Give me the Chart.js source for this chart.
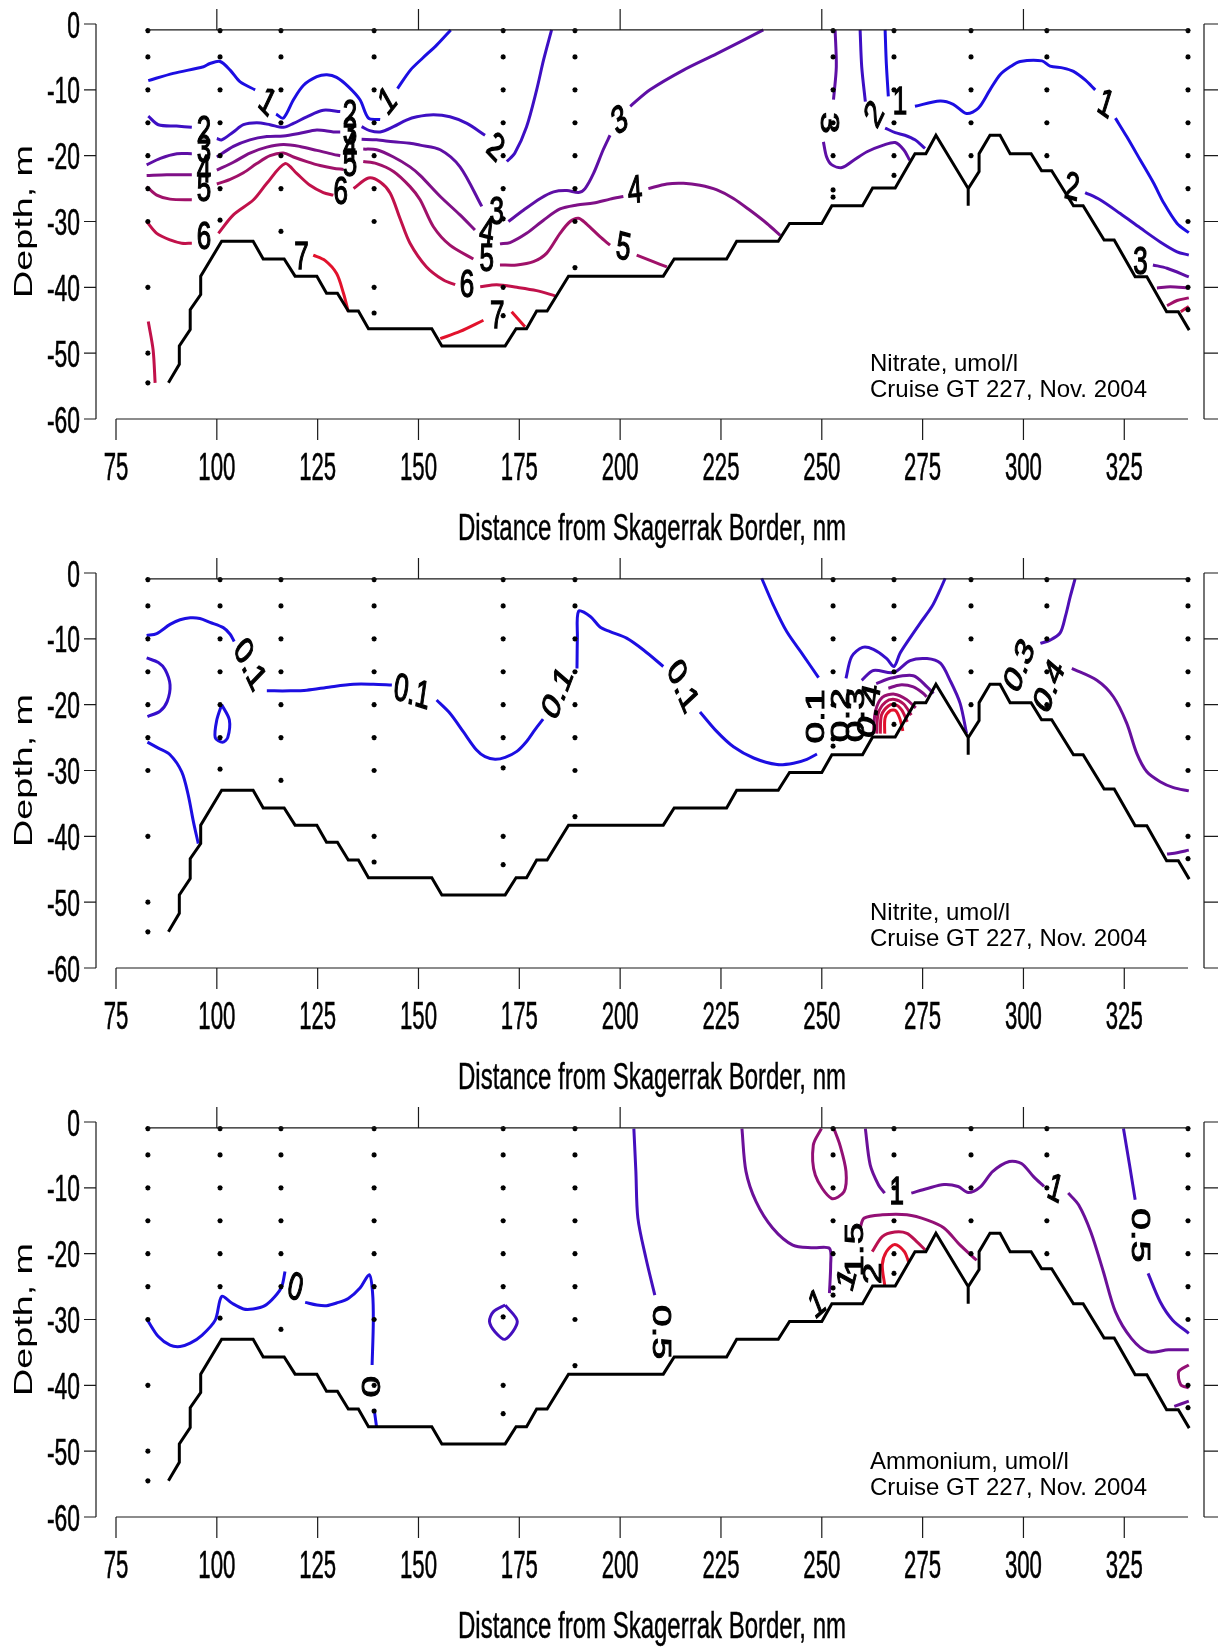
<!DOCTYPE html>
<html>
<head>
<meta charset="utf-8">
<script src="https://cdn.jsdelivr.net/npm/chart.js@4.4.1/dist/chart.umd.min.js"></script>
<style>
  body { margin: 0; background: #fff; }
  canvas { display: block; }
</style>
</head>
<body>
<canvas id="no3" width="1218" height="549"></canvas>
<canvas id="no2" width="1218" height="549"></canvas>
<canvas id="nh4" width="1218" height="549"></canvas>
<script>
// axes
const xTicks = [75, 100, 125, 150, 175, 200, 225, 250, 275, 300, 325];
const yTicks = [0, -10, -20, -30, -40, -50, -60];
const topTicks = [100, 150, 200, 250, 300];
const xMin = 75, xMax = 340.8;

// stations (distance, nm) and sample depths (m)
const stationDist = [82.9, 100.8, 115.9, 139.0, 171.0, 188.8, 252.8, 267.9, 287.0, 305.8, 340.8];
const stationDepths = [
  [1, 5, 10, 15, 20, 25, 30, 40, 50, 54.5],
  [1, 5, 10, 15, 20, 25, 29.8],
  [1, 5, 10, 15, 20, 25, 31.5],
  [1, 5, 10, 15, 20, 25, 30, 40, 43.9],
  [1, 5, 10, 15, 20, 25, 29.6, 40, 44.3],
  [1, 5, 10, 15, 20, 25, 30, 37],
  [1, 5, 10, 15, 20, 25.2, 26.3],
  [1, 5, 10, 15, 20, 23],
  [1, 5, 10, 15, 20],
  [1, 5, 10, 15, 20],
  [1, 5, 10, 15, 20, 25, 30, 40, 43.4]
];

// bottom profile
const bottomDist = [88.0, 90.7, 90.7, 93.4, 93.4, 96.0, 96.0, 101.2, 109.0, 111.5, 116.7, 119.4, 124.8, 127.2, 129.9, 132.6, 135.1, 137.6, 153.3, 155.8, 171.5, 174.2, 176.8, 179.3, 181.9, 187.2, 210.7, 213.4, 226.4, 228.9, 239.2, 242.0, 250.0, 252.5, 260.1, 262.6, 268.2, 273.1, 275.8, 278.3, 286.3, 286.3, 286.3, 289.0, 289.0, 291.7, 294.2, 296.7, 301.9, 304.5, 307.0, 312.4, 314.8, 320.0, 322.5, 327.7, 330.6, 335.5, 338.4, 341.1];
const bottomDepth = [-54.5, -51.7, -48.9, -46.4, -43.4, -41.1, -38.3, -33.0, -33.0, -35.7, -35.7, -38.3, -38.3, -40.9, -40.9, -43.6, -43.6, -46.3, -46.3, -48.9, -48.9, -46.3, -46.3, -43.6, -43.6, -38.3, -38.3, -35.7, -35.7, -33.0, -33.0, -30.3, -30.3, -27.6, -27.6, -24.9, -24.9, -19.7, -19.7, -16.9, -25.0, -27.6, -25.0, -22.4, -19.7, -16.9, -16.9, -19.7, -19.7, -22.3, -22.3, -27.6, -27.6, -32.8, -32.8, -38.4, -38.4, -43.7, -43.7, -46.5];

// ---- Nitrate contours [distance, depth]
const no3Levels = [1, 2, 3, 4, 5, 6, 7];
const no3Lines = [
  [1, [[83.0,-8.6],[89.2,-7.5],[96.7,-6.5],[98.3,-6.0],[100.8,-5.7],[103.3,-7.0],[105.8,-8.8],[109.5,-10.0]]],
  [1, [[114.7,-13.7],[116.5,-14.3],[119.0,-11.5],[121.5,-9.3],[124.8,-8.0],[127.3,-7.7],[129.7,-8.1],[132.6,-9.5],[135.5,-11.5],[137.6,-14.3],[140.5,-14.5]]],
  [1, [[144.8,-9.8],[148.0,-7.0],[151.0,-5.2],[154.5,-3.2],[158.0,-0.9]]],
  [1, [[265.7,-0.9],[266.0,-6.0],[266.5,-11.0]]],
  [1, [[273.1,-12.5],[279.3,-11.7],[282.6,-12.2],[285.9,-13.6],[288.8,-12.8],[291.7,-10.0],[294.2,-7.7],[296.7,-6.5],[299.2,-5.7],[304.6,-5.6],[306.6,-6.4],[309.9,-6.7],[312.4,-7.2],[315.3,-8.5],[317.8,-10.0]]],
  [1, [[322.8,-14.3],[325.6,-17.1],[329.0,-20.7],[332.3,-24.2],[334.8,-27.2],[338.1,-30.3],[341.0,-31.7]]],
  [2, [[83.0,-14.0],[85.5,-15.3],[90.0,-15.5],[93.8,-15.7]]],
  [2, [[100.0,-17.4],[101.2,-17.6],[104.1,-16.4],[106.6,-15.3],[109.9,-15.0],[113.2,-15.3],[116.5,-15.7],[119.0,-15.1],[122.3,-14.1],[126.4,-13.1],[130.6,-13.3]]],
  [2, [[135.9,-15.6],[137.9,-16.2],[140.5,-16.4],[143.8,-15.6],[147.0,-14.6],[149.6,-14.1],[153.7,-13.8],[157.8,-14.1],[162.0,-15.1],[166.5,-16.9]]],
  [2, [[171.9,-20.9],[173.9,-19.6],[176.8,-15.6],[179.3,-10.0],[181.0,-5.5],[183.0,-0.9]]],
  [2, [[259.5,-0.9],[259.9,-6.5],[260.8,-11.8]]],
  [2, [[265.7,-15.8],[268.2,-16.5],[270.6,-16.9],[273.1,-17.6],[275.6,-18.9]]],
  [2, [[315.3,-25.6],[319.0,-26.7],[324.0,-28.8],[329.0,-31.0],[333.9,-33.1],[338.1,-34.6],[341.0,-35.1]]],
  [3, [[82.6,-21.4],[86.0,-20.4],[90.1,-19.7],[93.8,-19.7]]],
  [3, [[100.0,-20.2],[104.1,-18.6],[108.2,-17.6],[112.4,-17.1],[116.5,-17.0],[120.6,-16.6],[124.8,-16.1],[128.9,-16.4],[130.6,-16.4]]],
  [3, [[135.9,-17.5],[139.6,-17.6],[143.8,-17.9],[147.9,-18.1],[150.4,-18.4],[155.4,-19.1],[160.3,-21.7],[165.7,-27.7]]],
  [3, [[172.3,-30.0],[176.0,-28.3],[180.2,-26.5],[183.5,-25.5],[186.8,-25.3],[189.7,-25.6],[191.3,-25.0],[193.4,-22.7],[195.8,-19.1],[197.5,-16.9]]],
  [3, [[202.5,-12.5],[207.4,-10.0],[215.7,-7.0],[224.0,-4.5],[235.5,-0.9]]],
  [3, [[253.3,-0.9],[253.6,-6.5],[252.9,-11.5]]],
  [3, [[250.4,-17.9],[251.2,-20.2],[252.5,-21.4],[255.0,-21.8],[257.9,-20.7],[261.2,-19.4],[265.3,-18.4],[268.2,-18.0],[270.3,-19.1],[271.8,-20.7]]],
  [3, [[332.1,-36.6],[335.6,-37.1],[341.0,-38.4]]],
  [4, [[82.6,-23.0],[87.6,-22.9],[93.8,-22.9]]],
  [4, [[100.0,-22.2],[104.1,-21.0],[108.2,-19.6],[112.4,-18.7],[116.5,-18.3],[120.6,-18.6],[124.8,-19.2],[128.9,-19.8],[130.6,-20.0]]],
  [4, [[136.3,-19.0],[139.6,-19.1],[143.8,-20.2],[147.9,-21.7],[150.4,-23.0],[155.4,-26.2],[160.3,-29.0],[164.0,-31.3]]],
  [4, [[170.2,-33.4],[172.7,-33.2],[176.8,-31.8],[181.0,-29.8],[185.1,-28.1],[189.3,-27.5],[193.4,-27.2],[197.5,-26.6],[200.8,-26.2]]],
  [4, [[207.0,-25.0],[211.6,-24.3],[215.7,-24.2],[219.8,-24.5],[224.0,-25.2],[228.1,-26.5],[232.2,-28.3],[236.4,-30.3],[239.7,-32.1]]],
  [4, [[333.1,-40.1],[336.4,-39.9],[341.0,-40.1]]],
  [5, [[82.6,-24.7],[85.1,-26.0],[88.4,-26.6],[93.8,-26.7]]],
  [5, [[100.0,-24.3],[103.3,-23.6],[106.6,-22.6],[109.9,-21.2],[113.2,-20.0],[116.5,-19.6],[119.0,-20.2],[122.3,-20.9],[125.6,-21.5],[128.9,-21.9],[131.4,-22.1]]],
  [5, [[136.3,-20.9],[139.6,-21.2],[143.8,-22.4],[147.9,-24.7],[150.4,-26.7],[153.7,-30.8],[157.8,-33.6],[163.6,-35.7]]],
  [5, [[170.2,-36.6],[174.4,-36.6],[178.5,-36.1],[181.8,-34.8],[185.1,-31.8],[187.6,-30.0],[189.7,-29.5],[191.7,-30.4],[195.0,-32.3],[197.5,-33.6]]],
  [5, [[204.1,-35.1],[208.2,-36.1],[211.6,-36.9]]],
  [5, [[335.6,-42.8],[338.1,-42.0],[341.0,-41.6]]],
  [6, [[82.6,-30.0],[85.1,-31.8],[88.4,-32.8],[91.3,-33.3],[93.8,-33.3]]],
  [6, [[100.4,-31.8],[104.1,-29.0],[109.1,-26.7],[112.4,-24.2],[116.9,-21.2],[119.8,-22.7],[123.1,-24.5],[126.4,-25.6],[128.9,-26.0]]],
  [6, [[133.9,-25.0],[137.6,-23.4],[140.5,-24.0],[143.0,-25.7],[145.4,-29.5],[147.9,-33.3],[152.0,-36.9],[156.2,-38.9],[159.1,-39.6]]],
  [6, [[165.3,-39.9],[169.4,-39.6],[174.4,-40.0],[179.3,-40.5],[183.9,-41.3]]],
  [6, [[83.0,-45.2],[84.2,-49.5],[84.7,-54.5]]],
  [6, [[339.0,-43.7],[341.0,-42.9]]],
  [7, [[123.9,-35.1],[126.8,-35.9],[129.7,-37.9],[131.4,-40.9],[132.6,-43.7]]],
  [7, [[155.4,-47.8],[160.3,-46.7],[166.1,-45.0]]],
  [7, [[173.1,-43.7],[176.4,-46.0]]]
];
const no3Labels = [
  ['1', 112.4, -12.0], ['1', 142.5, -11.8], ['2', 96.8, -16.5], ['3', 96.8, -19.4], ['4', 96.8, -22.3], ['5', 96.8, -25.3],
  ['6', 96.8, -32.6], ['2', 133.0, -14.0], ['3', 133.0, -16.6], ['4', 133.0, -19.0], ['5', 133.0, -21.5], ['6', 130.7, -25.7],
  ['7', 121.0, -35.6], ['2', 169.0, -18.9], ['3', 169.4, -28.8], ['4', 166.9, -31.8], ['5', 166.9, -35.9], ['6', 162.0, -39.9],
  ['7', 169.5, -44.5], ['3', 200.0, -14.8], ['4', 203.7, -25.5], ['5', 200.8, -34.1], ['3', 251.6, -15.0], ['2', 263.2, -13.8],
  ['1', 269.4, -12.0], ['1', 320.3, -12.3], ['2', 312.0, -25.0], ['3', 329.0, -36.4]
];
const no3LabelAngles = [35, -40, 0, 0, 0, 0, 0, 0, 0, 0, 0, 0, 0, 35, 0, 10, 0, 0, 0, -25, -5, 10, 90, -55, 0, 25, 10, 0];

// ---- Nitrite contours
const no2Levels = [0.1, 0.2, 0.3, 0.4, 0.5, 0.6, 0.7, 0.8, 0.9];
const no2Lines = [
  [0.1, [[82.6,-9.5],[85.1,-9.2],[88.4,-7.8],[90.9,-7.1],[93.4,-6.8],[95.8,-6.9],[98.3,-7.5],[101.6,-8.3],[103.3,-9.3],[104.3,-10.4]]],
  [0.1, [[112.4,-17.9],[118.2,-17.9],[122.3,-17.8],[128.1,-17.3],[133.9,-16.9],[138.8,-16.9],[143.4,-17.0]]],
  [0.1, [[154.5,-19.3],[157.8,-21.3],[161.1,-24.1],[164.4,-26.9],[166.5,-27.9],[169.0,-28.3],[171.5,-28.0],[174.4,-27.1],[176.8,-25.6],[178.9,-23.8],[180.9,-22.2]]],
  [0.1, [[189.3,-14.5],[189.4,-9.9],[189.7,-5.8],[192.6,-6.6],[195.0,-8.2],[197.5,-8.9],[201.6,-9.9],[205.8,-11.7],[210.7,-14.2]]],
  [0.1, [[219.8,-21.1],[224.0,-24.1],[228.1,-26.4],[233.1,-28.1],[238.9,-29.1],[243.0,-28.9],[246.3,-28.3],[248.8,-27.5]]],
  [0.1, [[235.1,-0.8],[238.0,-4.9],[241.3,-8.9],[245.4,-12.5],[249.2,-15.9]]],
  [0.1, [[101.2,-20.0],[103.1,-22.3],[102.7,-25.0],[101.4,-25.7],[99.6,-25.0],[100.0,-22.3],[101.2,-20.0]]],
  [0.1, [[82.8,-25.7],[85.5,-26.6],[88.4,-27.6],[91.3,-30.2],[92.9,-33.7],[94.2,-37.8],[95.4,-41.1]]],
  [0.2, [[82.6,-12.9],[85.5,-13.6],[87.2,-14.7],[88.4,-17.0],[87.7,-19.5],[85.9,-21.0],[82.8,-21.8]]],
  [0.2, [[256.0,-16.0],[257.4,-12.7],[260.1,-11.3],[262.8,-11.6],[266.1,-13.0],[267.9,-14.2],[269.4,-12.2],[271.5,-10.2],[274.4,-7.6],[277.3,-5.1],[279.3,-2.6],[280.6,-0.8]]],
  [0.3, [[259.9,-16.3],[262.8,-14.8],[267.8,-15.1],[271.9,-13.3],[276.1,-13.0],[279.4,-13.7],[281.8,-16.3],[284.3,-19.8],[285.9,-24.4]]],
  [0.3, [[304.2,-10.7],[306.6,-10.2],[309.1,-9.1],[310.4,-6.6],[311.6,-3.6],[312.8,-0.9]]],
  [0.4, [[263.5,-16.8],[267.0,-16.0],[272.7,-15.6],[276.1,-17.3],[277.7,-18.3]]],
  [0.4, [[312.0,-14.5],[318.2,-16.3],[322.3,-18.8],[325.6,-22.8],[328.1,-27.4],[330.6,-30.2],[333.9,-31.7],[337.2,-32.6],[341.0,-33.1]]],
  [0.4, [[335.6,-42.7],[338.1,-42.5],[341.0,-42.1]]],
  [0.5, [[266.5,-17.5],[269.4,-17.0],[272.7,-17.3],[275.2,-18.3],[276.0,-18.8]]],
  [0.6, [[262.8,-24.4],[263.3,-21.0],[265.0,-18.9],[268.0,-18.4],[271.0,-19.2],[273.3,-20.5]]],
  [0.7, [[263.6,-24.4],[264.0,-21.3],[265.8,-19.6],[268.0,-19.2],[270.3,-19.9],[272.2,-21.6]]],
  [0.8, [[264.5,-24.4],[264.8,-21.6],[266.5,-20.2],[268.2,-20.0],[269.8,-20.8],[271.2,-22.6]]],
  [0.9, [[265.6,-24.4],[265.7,-22.0],[267.0,-20.9],[268.3,-20.9],[269.4,-22.2],[270.1,-24.0]]]
];
const no2Labels = [
  ['0.1', 108.0, -14.0], ['0.1', 148.3, -18.3], ['0.1', 184.7, -18.3], ['0.1', 215.3, -17.3], ['0.1', 248.8, -21.8],
  ['0.2', 255.0, -21.6], ['0.3', 258.6, -21.6], ['0.4', 262.0, -21.0], ['0.3', 299.2, -14.2], ['0.4', 306.6, -17.3]
];
const no2LabelAngles = [55, 12, -60, 58, -90, -90, -90, -80, -60, -60];

// ---- Ammonium contours
const nh4Levels = [0, 0.5, 1, 1.5, 2, 2.5];
const nh4Lines = [
  [0, [[82.8,-30.1],[85.5,-32.6],[88.4,-33.9],[90.9,-34.1],[93.4,-33.6],[96.3,-32.4],[99.6,-30.1],[101.2,-26.5],[103.7,-27.5],[106.6,-28.4],[109.0,-28.4],[111.9,-27.9],[114.4,-26.5],[116.1,-25.0],[116.9,-22.7]]],
  [0, [[121.9,-27.4],[124.8,-27.8],[127.2,-27.9],[129.7,-27.5],[132.6,-26.8],[135.5,-25.2],[137.8,-23.2],[138.6,-25.8],[138.8,-30.3],[138.5,-36.9]]],
  [0, [[139.0,-43.6],[139.6,-46.3]]],
  [0.5, [[171.5,-27.8],[174.5,-30.3],[171.5,-33.0],[169.0,-31.9],[167.6,-30.3],[168.6,-28.8],[171.5,-27.8]]],
  [0.5, [[203.4,-1.0],[203.9,-7.5],[204.4,-14.6],[206.4,-20.7],[208.6,-26.3]]],
  [0.5, [[324.8,-1.0],[326.3,-6.5],[327.7,-11.8]]],
  [0.5, [[330.9,-23.0],[333.9,-27.3],[337.0,-30.1],[341.0,-32.1]]],
  [1, [[230.2,-1.0],[231.2,-7.5],[233.7,-12.1],[237.8,-16.1],[242.8,-18.7],[247.9,-19.1],[251.9,-19.2],[252.2,-21.7],[251.9,-26.0]]],
  [1, [[260.8,-1.0],[262.0,-6.5],[264.1,-9.6],[265.6,-10.8]]],
  [1, [[272.2,-10.8],[276.2,-10.1],[280.3,-9.5],[283.8,-9.8],[286.3,-10.7],[289.4,-9.8],[292.4,-7.5],[296.5,-6.0],[299.5,-6.3],[302.5,-8.3],[305.1,-9.8]]],
  [1, [[311.1,-10.8],[313.7,-12.6],[316.7,-16.7],[319.8,-22.7],[322.8,-28.8],[326.8,-32.9],[330.9,-34.9],[336.0,-34.6],[341.0,-34.6]]],
  [1, [[337.4,-43.2],[341.0,-42.4]]],
  [1.5, [[249.9,-1.0],[247.9,-3.5],[248.4,-8.1],[252.4,-11.6],[255.5,-10.6],[256.0,-7.5],[254.5,-3.5],[253.0,-1.0]]],
  [1.5, [[259.5,-16.1],[260.5,-14.6],[265.0,-14.1],[271.1,-14.1],[276.2,-14.9],[280.3,-16.1],[284.3,-18.7],[288.4,-21.0]]],
  [1.5, [[341.0,-36.9],[338.5,-37.9],[339.0,-39.9],[341.0,-40.4]]],
  [2, [[262.5,-19.7],[265.0,-17.4],[268.1,-16.7],[271.1,-16.9],[273.6,-18.2],[275.6,-19.4]]],
  [2.5, [[265.6,-24.8],[265.0,-21.7],[266.0,-19.7],[268.1,-18.6],[270.5,-19.7],[271.5,-21.2]]]
];
const nh4Labels = [
  ['0', 119.4, -25.3], ['0', 138.8, -40.2], ['0.5', 210.0, -31.9], ['1', 248.9, -27.8], ['1', 256.4, -24.0],
  ['1.5', 258.4, -19.4], ['2', 263.0, -23.0], ['1', 268.6, -10.8], ['1', 307.8, -10.3], ['0.5', 328.8, -17.2]
];
const nh4LabelAngles = [20, -90, 90, -30, -70, -90, -90, 0, 20, 90];

// ------------------------------------------------------------------
const NARROW = "'Liberation Sans Narrow', 'Liberation Sans', Arial, sans-serif";
const REGULAR = "'Liberation Sans', Arial, sans-serif";

function levelColor(level, levels) {
  const t = levels.indexOf(level) / (levels.length - 1);
  const r = Math.round(28 + t * (226 - 28));
  const g = Math.round(14 + t * 4);
  const b = Math.round(226 - t * (226 - 44));
  return `rgb(${r},${g},${b})`;
}

function drawText(ctx, text, x, y, o) {
  ctx.save();
  ctx.translate(x, y);
  if (o.sy) ctx.scale(1, o.sy);
  if (o.rot) ctx.rotate(o.rot * Math.PI / 180);
  ctx.font = o.font;
  const sx = o.width ? o.width / ctx.measureText(text).width : (o.sx || 1);
  ctx.scale(sx, 1);
  ctx.textAlign = o.align || 'center';
  ctx.textBaseline = o.base || 'alphabetic';
  ctx.fillStyle = '#000';
  ctx.fillText(text, 0, 0);
  if (o.bold) {
    ctx.strokeStyle = '#000';
    ctx.lineWidth = o.bold;
    ctx.strokeText(text, 0, 0);
  }
  ctx.restore();
}

function widthScale(ctx, font, sample, target) {
  ctx.save();
  ctx.font = font;
  const w = ctx.measureText(sample).width;
  ctx.restore();
  return target / w;
}

const sectionPlugin = {
  id: 'section',
  afterDatasetsDraw(chart, args, opts) {
    const { ctx, chartArea } = chart;
    const xs = chart.scales.x, ys = chart.scales.y;
    const X = v => xs.getPixelForValue(v), Y = v => ys.getPixelForValue(v);
    const xt = xs.ticks.length ? xs.ticks.map(t => t.value) : xTicks;
    const yt = ys.ticks.length ? ys.ticks.map(t => t.value) : yTicks;

    ctx.save();
    ctx.strokeStyle = '#1a1a1a';
    ctx.lineWidth = 1.2;
    const y0 = Y(0), y60 = Y(-60);
    const axX = chartArea.left - 20;

    // left depth axis
    ctx.beginPath();
    ctx.moveTo(axX, y0); ctx.lineTo(axX, y60);
    yt.forEach(v => { ctx.moveTo(axX - 12, Y(v)); ctx.lineTo(axX, Y(v)); });
    // right frame axis
    const rX = chartArea.right + 16;
    ctx.moveTo(rX, y0); ctx.lineTo(rX, y60);
    yt.forEach(v => { ctx.moveTo(rX, Y(v)); ctx.lineTo(rX + 16, Y(v)); });
    // bottom distance axis
    ctx.moveTo(X(xMin), y60); ctx.lineTo(X(xMax), y60);
    xt.forEach(v => { ctx.moveTo(X(v), y60); ctx.lineTo(X(v), y60 + 21); });
    // top line at the first sample depth
    const yTop = Y(-0.9);
    ctx.moveTo(X(stationDist[0]), yTop); ctx.lineTo(X(xMax), yTop);
    topTicks.forEach(v => { ctx.moveTo(X(v), yTop); ctx.lineTo(X(v), yTop - 21); });
    ctx.stroke();
    ctx.restore();

    // tick labels
    const xf = '26px ' + NARROW;
    const xsx = widthScale(ctx, xf, '100', 37);
    xt.forEach(v => drawText(ctx, String(v), X(v), y60 + 61, { font: xf, sx: xsx, sy: 1.52, bold: 0.4 }));
    const yf = '24px ' + NARROW;
    const ysx = widthScale(ctx, yf, '-10', 33);
    yt.forEach(v => drawText(ctx, String(v), axX - 16, Y(v) + 13.5, { font: yf, sx: ysx, sy: 1.5, align: 'right', bold: 0.4 }));

    // axis titles
    drawText(ctx, 'Distance from Skagerrak Border, nm', (X(xMin) + X(xMax)) / 2, y60 + 121,
      { font: '24px ' + NARROW, width: 388, sy: 1.5, bold: 0.3 });
    drawText(ctx, 'Depth, m', 32, (y0 + y60) / 2, { font: '26px ' + REGULAR, width: 153, rot: -90 });

    // caption
    ctx.save();
    ctx.font = '24px ' + REGULAR;
    ctx.fillStyle = '#000';
    ctx.textAlign = 'left';
    ctx.fillText(opts.caption, chartArea.right - 318, y60 - 48.5);
    ctx.fillText('Cruise GT 227, Nov. 2004', chartArea.right - 318, y60 - 22.5);
    ctx.restore();

    // contour labels
    opts.labels.forEach((lb, i) => {
      drawText(ctx, lb[0], X(lb[1]), Y(lb[2]), {
        font: '26px ' + REGULAR, sy: 1.5, rot: opts.angles[i] || 0, base: 'middle', bold: 0.9
      });
    });
  }
};

function makeSection(id, levels, lines, labels, angles, caption) {
  const datasets = [];
  const stationPts = [];
  stationDist.forEach((d, i) => stationDepths[i].forEach(z => stationPts.push({ x: d, y: -z })));
  datasets.push({
    data: stationPts, showLine: false, pointStyle: 'star', pointRadius: 2.6,
    borderColor: '#000', backgroundColor: '#000', borderWidth: 1.5, clip: false
  });
  datasets.push({
    data: bottomDist.map((d, i) => ({ x: d, y: bottomDepth[i] })), showLine: true,
    borderColor: '#000', borderWidth: 3, pointRadius: 0, tension: 0, clip: false
  });
  lines.forEach(([lev, pts]) => {
    datasets.push({
      data: pts.map(p => ({ x: p[0], y: p[1] })), showLine: true,
      borderColor: levelColor(lev, levels), borderWidth: 3, pointRadius: 0,
      tension: 0.3, clip: false
    });
  });

  new Chart(document.getElementById(id), {
    type: 'scatter',
    data: { datasets },
    options: {
      responsive: false,
      animation: false,
      devicePixelRatio: 1,
      layout: { padding: { left: 116, right: 30, top: 24, bottom: 130 } },
      plugins: {
        legend: { display: false },
        tooltip: { enabled: false },
        section: { caption, labels, angles }
      },
      scales: {
        x: {
          type: 'linear', min: xMin, max: xMax, display: false,
          afterBuildTicks: s => { s.ticks = xTicks.map(v => ({ value: v })); }
        },
        y: {
          type: 'linear', min: -60, max: 0, display: false,
          afterBuildTicks: s => { s.ticks = yTicks.map(v => ({ value: v })); }
        }
      }
    },
    plugins: [sectionPlugin]
  });
}

makeSection('no3', no3Levels, no3Lines, no3Labels, no3LabelAngles, 'Nitrate, umol/l');
makeSection('no2', no2Levels, no2Lines, no2Labels, no2LabelAngles, 'Nitrite, umol/l');
makeSection('nh4', nh4Levels, nh4Lines, nh4Labels, nh4LabelAngles, 'Ammonium, umol/l');
</script>
</body>
</html>
